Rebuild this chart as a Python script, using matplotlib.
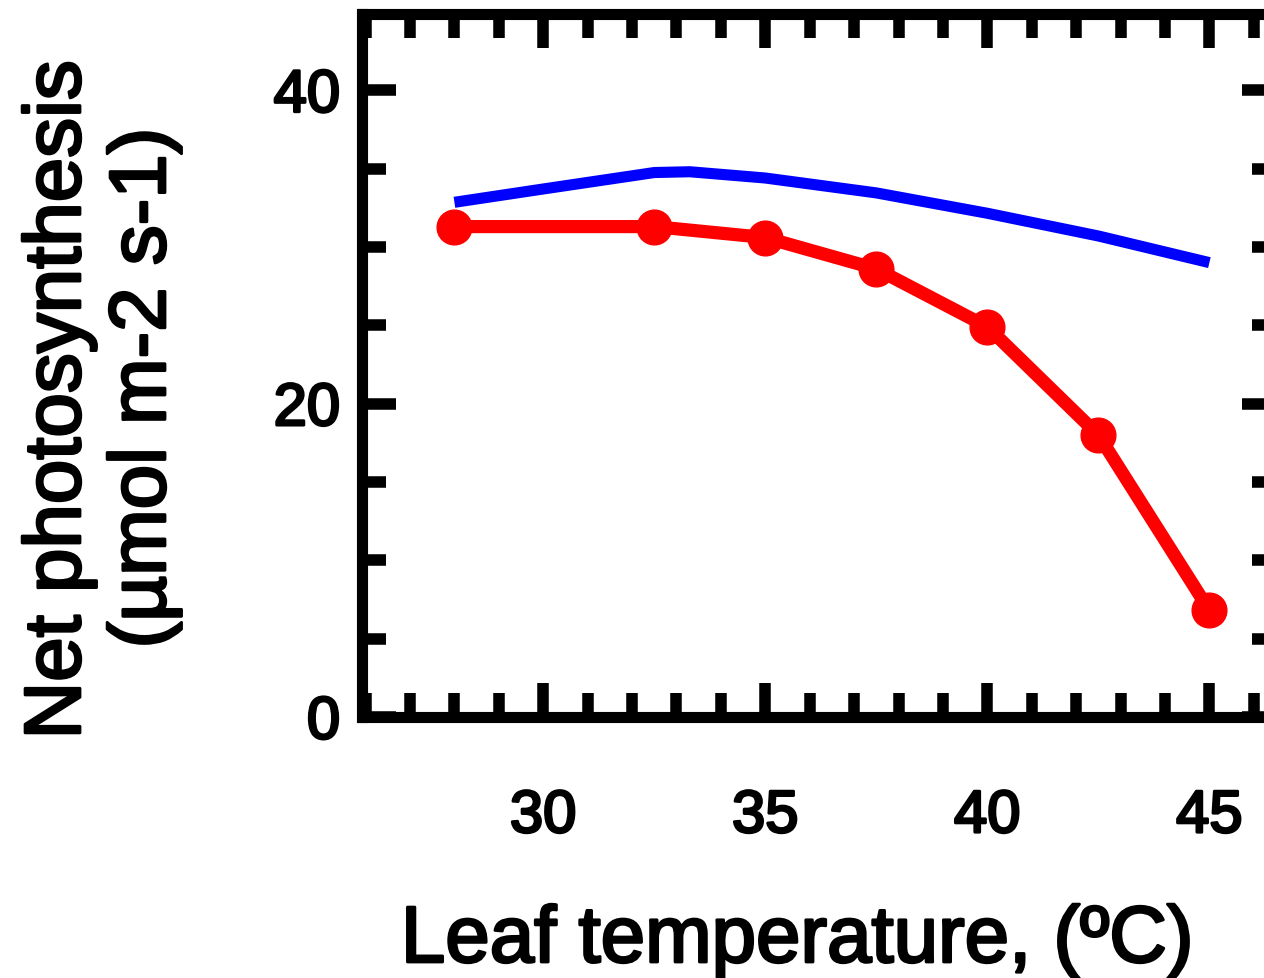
import matplotlib
matplotlib.use("Agg")
import matplotlib.pyplot as plt
import matplotlib.patheffects as pe
from matplotlib.ticker import MultipleLocator, FixedLocator

# Data
temp_red = [28, 32.5, 35, 37.5, 40, 42.5, 45]
photo_red = [31.3, 31.3, 30.6, 28.6, 24.9, 18.0, 6.8]

temp_blue = [28, 30, 32.5, 33.3, 35, 37.5, 40, 42.5, 45]
photo_blue = [32.85, 33.7, 34.75, 34.8, 34.4, 33.45, 32.15, 30.7, 29.0]

xticks = [30, 35, 40, 45]
yticks = [0, 20, 40]

W, H = 1264, 979
fig = plt.figure(figsize=(W / 100, H / 100), dpi=100)
plt.rcParams['font.family'] = ['Liberation Sans', 'DejaVu Sans']

ax = fig.add_axes([362.5 / W, 1 - 718 / H, (1276 - 362.5) / W, (718 - 14.5) / H])
ax.set_xlim(25.93, 46.5)
ax.set_ylim(0, 44.9)

thick = [pe.withStroke(linewidth=2.0, foreground='black')]

ax.plot(temp_red, photo_red, color='#FF0000', lw=9.5, marker='o', ms=25,
        solid_capstyle='round', zorder=3, clip_on=False)
ax.plot(temp_blue, photo_blue, color='#0000FF', lw=8, zorder=4,
        solid_capstyle='butt', solid_joinstyle='round')

for s in ax.spines.values():
    s.set_linewidth(8)
    s.set_color('black')

ax.xaxis.set_major_locator(FixedLocator(xticks))
ax.xaxis.set_minor_locator(MultipleLocator(1))
ax.yaxis.set_major_locator(FixedLocator(yticks))
ax.yaxis.set_minor_locator(MultipleLocator(5))

ax.tick_params(which='both', direction='in', top=True, right=True,
               width=8.3, color='black')
ax.tick_params(which='major', length=24.5)
ax.tick_params(which='minor', length=17.5)
ax.tick_params(axis='x', which='major', pad=52, labelsize=43)
ax.tick_params(axis='y', which='major', pad=16, labelsize=43)

for lab in ax.get_xticklabels() + ax.get_yticklabels():
    lab.set_path_effects(thick)

fig.text(797 / W, 1 - 963 / H, 'Leaf temperature, (ºC)', fontsize=57.5,
         ha='center', va='baseline', path_effects=thick)
fig.text(80 / W, 1 - 401 / H, 'Net photosynthesis', fontsize=57.5,
         rotation=90, rotation_mode='anchor', ha='center', va='baseline',
         path_effects=thick)
fig.text(165 / W, 1 - 389 / H, '(µmol m-2 s-1)', fontsize=57.5,
         rotation=90, rotation_mode='anchor', ha='center', va='baseline',
         path_effects=thick)

fig.savefig('out.png', dpi=100)
